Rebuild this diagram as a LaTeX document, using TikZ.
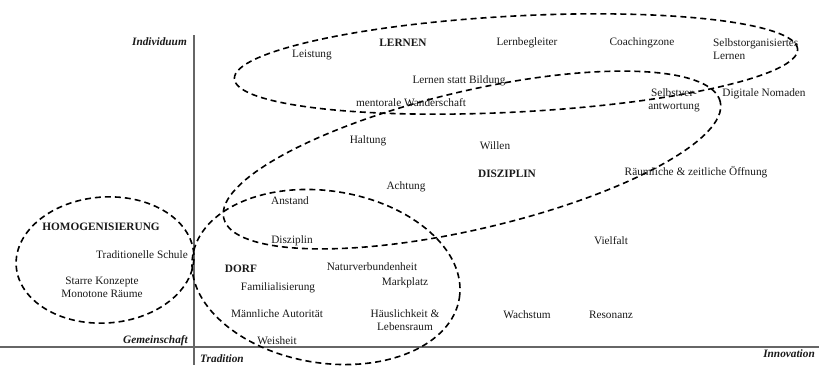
\documentclass[tikz,border=0pt]{standalone}
\usepackage{fontspec}
\setmainfont{Liberation Serif}
\begin{document}
\begin{tikzpicture}[x=1pt,y=-1pt,
  lbl/.style={inner sep=0pt, align=center, font=\fontsize{11.3}{13}\selectfont, text=black!90},
  hd/.style={lbl, font=\fontsize{11.3}{13}\selectfont\bfseries},
  ax/.style={lbl, font=\fontsize{11.3}{13}\selectfont\bfseries\itshape},
  grp/.style={draw=black, line width=1.6pt, dash pattern=on 6pt off 4pt},
  axisline/.style={draw=black!60, line width=1.2pt}]
\useasboundingbox (0,0) rectangle (819,365);
% axes
\coordinate (vtop) at (194,35);
\coordinate (vbot) at (194,365);
\coordinate (hl) at (0,347);
\coordinate (hr) at (819,347);
\draw[axisline] (vtop) -- (vbot);
\draw[axisline] (hl) -- (hr);
% group ellipses
\draw[grp, rotate around={3:(516,64)}] (516,64) ellipse [x radius=282pt, y radius=48pt];
\draw[grp, rotate around={13.2:(472,160)}] (472,160) ellipse [x radius=255pt, y radius=69pt];
\draw[grp, rotate around={-9:(326,277)}] (326,277) ellipse [x radius=135pt, y radius=86pt];
\draw[grp, rotate around={4:(105,260)}] (105,260) ellipse [x radius=89pt, y radius=63pt];
% axis labels
\node[ax, anchor=east] (indiv) at (187,42) {Individuum};
\node[ax, anchor=east] (gem) at (188,341) {Gemeinschaft};
\node[ax] (trad) at (222,359) {Tradition};
\node[ax, anchor=east] (innov) at (815,354) {Innovation};
% LERNEN
\node[lbl] (leist) at (312,55) {Leistung};
\node[hd] (lernen) at (403,43) {LERNEN};
\node[lbl] (lernbeg) at (527,43) {Lernbegleiter};
\node[lbl] (coach) at (642,43) {Coachingzone};
\node[lbl, align=left, anchor=west] (selbstorg) at (713,49) {Selbstorganisiertes\\Lernen};
\node[lbl] (lsb) at (459,81) {Lernen statt Bildung};
\node[lbl] (mentor) at (411,103) {mentorale Wanderschaft};
\node[lbl] (selbstver) at (674,100) {Selbstver-\\antwortung};
\node[lbl] (nomaden) at (764,94) {Digitale Nomaden};
% DISZIPLIN
\node[lbl] (haltung) at (368,141) {Haltung};
\node[lbl] (willen) at (495,146) {Willen};
\node[hd] (diszi) at (507,174) {DISZIPLIN};
\node[lbl] (raeum) at (696,172) {Räumliche \& zeitliche Öffnung};
\node[lbl] (achtung) at (406,187) {Achtung};
\node[lbl] (anstand) at (290,201) {Anstand};
\node[lbl] (disziplin) at (292,241) {Disziplin};
\node[lbl] (vielfalt) at (611,241) {Vielfalt};
% DORF
\node[hd] (dorf) at (241,269) {DORF};
\node[lbl] (natur) at (372,267) {Naturverbundenheit};
\node[lbl] (markt) at (405,283) {Markplatz};
\node[lbl] (famil) at (278,288) {Familialisierung};
\node[lbl] (maenn) at (277,314) {Männliche Autorität};
\node[lbl] (haeusl) at (405,320) {Häuslichkeit \&\\Lebensraum};
\node[lbl] (weish) at (277,341) {Weisheit};
\node[lbl] (wachs) at (527,315) {Wachstum};
\node[lbl] (reson) at (611,315) {Resonanz};
% HOMOGENISIERUNG
\node[hd] (homog) at (101,227) {HOMOGENISIERUNG};
\node[lbl] (tradsch) at (142,255) {Traditionelle Schule};
\node[lbl] (starre) at (102,287) {Starre Konzepte\\Monotone Räume};
\end{tikzpicture}
\end{document}
